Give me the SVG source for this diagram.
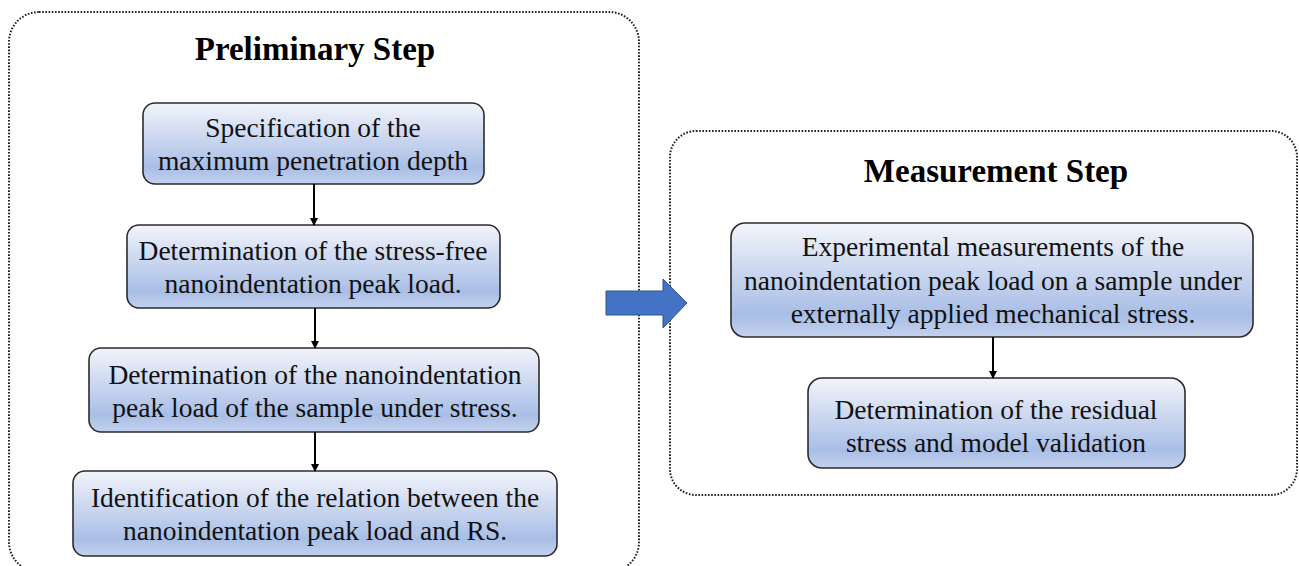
<svg xmlns="http://www.w3.org/2000/svg" width="1299" height="566" viewBox="0 0 1299 566">
<style>
.panel{fill:none;stroke:#222;stroke-width:2;stroke-dasharray:1.6 1.6}
.box{fill:url(#g);stroke:#2b2b2b;stroke-width:1.6}
.t{font-family:"Liberation Serif","Times New Roman",serif;font-size:27.5px;fill:#111;text-anchor:middle}
.h{font-family:"Liberation Serif","Times New Roman",serif;font-size:33px;font-weight:bold;fill:#000;text-anchor:middle}
.c{stroke:#000;stroke-width:2;fill:none;marker-end:url(#ah)}
</style>
<defs>
<linearGradient id="g" x1="0" y1="0" x2="0" y2="1">
<stop offset="0" stop-color="#F2F4FB"/>
<stop offset="0.8" stop-color="#A9BEE6"/>
<stop offset="1" stop-color="#C3D1EE"/>
</linearGradient>
<marker id="ah" markerWidth="8" markerHeight="8" refX="7" refY="4" orient="auto" markerUnits="userSpaceOnUse">
<path d="M0,0 L8,4 L0,8 Z" fill="#000"/>
</marker>
</defs>
<g id="preliminary-panel">
<rect class="panel" x="9" y="12" width="630" height="560" rx="30"/>
<text class="h" x="315" y="60">Preliminary Step</text>
</g>
<g id="measurement-panel">
<rect class="panel" x="670" y="131" width="627" height="364" rx="26"/>
<text class="h" x="996" y="182">Measurement Step</text>
</g>
<g id="n1">
<rect class="box" x="143" y="103" width="341" height="81" rx="12"/>
<text class="t" x="313" y="137">Specification of the</text>
<text class="t" x="313" y="170">maximum penetration depth</text>
</g>
<g id="n2">
<rect class="box" x="127" y="225" width="373" height="83" rx="12"/>
<text class="t" x="313" y="260">Determination of the stress-free</text>
<text class="t" x="313" y="293">nanoindentation peak load.</text>
</g>
<g id="n3">
<rect class="box" x="89" y="348" width="450" height="84" rx="12"/>
<text class="t" x="315" y="384">Determination of the nanoindentation</text>
<text class="t" x="315" y="417">peak load of the sample under stress.</text>
</g>
<g id="n4">
<rect class="box" x="73" y="471" width="484" height="85" rx="12"/>
<text class="t" x="315" y="507">Identification of the relation between the</text>
<text class="t" x="315" y="540">nanoindentation peak load and RS.</text>
</g>
<g id="n5">
<rect class="box" x="731" y="223" width="522" height="114" rx="14"/>
<text class="t" x="993" y="256">Experimental measurements of the</text>
<text class="t" x="993" y="290">nanoindentation peak load on a sample under</text>
<text class="t" x="993" y="323">externally applied mechanical stress.</text>
</g>
<g id="n6">
<rect class="box" x="808" y="378" width="377" height="90" rx="14"/>
<text class="t" x="996" y="419">Determination of the residual</text>
<text class="t" x="996" y="452">stress and model validation</text>
</g>
<g id="transition-arrow">
<path d="M606,291 L663,291 L663,279 L687,303 L663,328 L663,315 L606,315 Z" fill="#4472C4" stroke="#2F528F" stroke-width="1"/>
</g>
<g id="connectors">
<line class="c" x1="314" y1="184" x2="314" y2="225"/>
<line class="c" x1="315" y1="308" x2="315" y2="348"/>
<line class="c" x1="315" y1="432" x2="315" y2="471"/>
<line class="c" x1="993" y1="337" x2="993" y2="378"/>
</g>
</svg>
